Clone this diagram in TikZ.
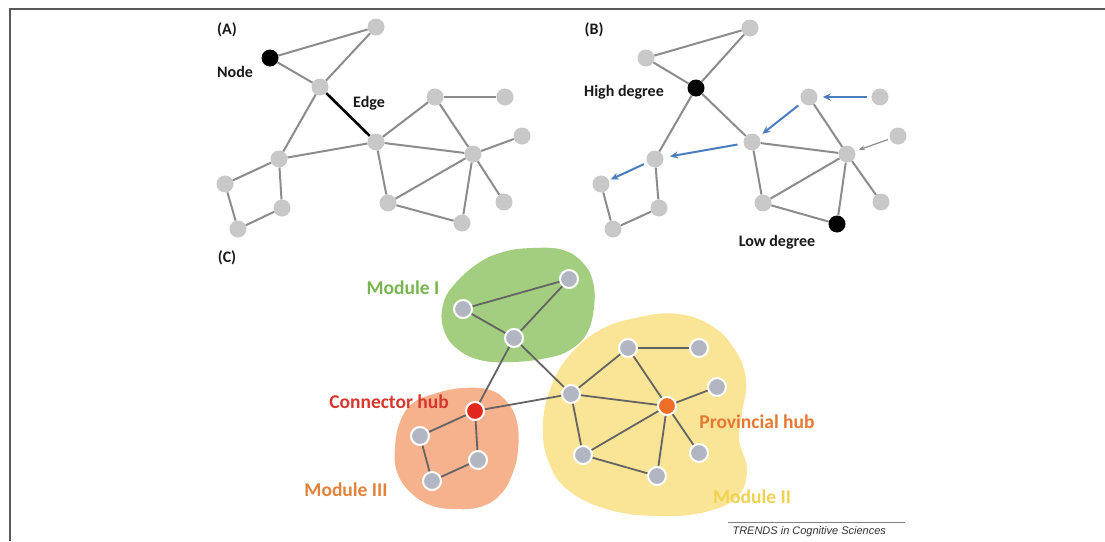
\documentclass[tikz,border=0pt]{standalone}
\usepackage{fontspec}
\newfontfamily\lab{Carlito}
\newfontfamily\arialf{Liberation Sans}
\usetikzlibrary{arrows.meta}
\definecolor{nA}{RGB}{200,200,200}
\definecolor{eA}{RGB}{140,140,140}
\definecolor{nC}{RGB}{178,182,194}
\definecolor{eC}{RGB}{100,100,100}
\definecolor{arrB}{RGB}{74,124,190}
\definecolor{hubR}{RGB}{226,40,30}
\definecolor{hubO}{RGB}{238,110,40}
\definecolor{gFill}{RGB}{163,206,128}
\definecolor{oFill}{RGB}{245,178,140}
\definecolor{yFill}{RGB}{250,228,150}
\definecolor{tGreen}{RGB}{120,180,80}
\definecolor{tRed}{RGB}{215,55,45}
\definecolor{tOrange}{RGB}{225,130,60}
\definecolor{tProv}{RGB}{230,120,50}
\definecolor{tYellow}{RGB}{240,210,80}
\definecolor{frameC}{RGB}{90,90,90}
\begin{document}
\begin{tikzpicture}[x=1pt,y=-1pt,
 gn/.style={circle,fill=nA,minimum size=17pt,inner sep=0pt},
 bn/.style={circle,fill=black,minimum size=17pt,inner sep=0pt},
 ea/.style={draw=eA,line width=2pt},
 cn/.style={circle,fill=nC,draw=white,line width=2pt,minimum size=18pt,inner sep=0pt},
 ec/.style={draw=eC,line width=1.8pt},
 lbl/.style={font=\lab\bfseries\fontsize{16}{18}\selectfont, text=black!90},
 lblC/.style={font=\lab\bfseries\fontsize{19.5}{22}\selectfont},
 barr/.style={draw=arrB,line width=2pt,-{Stealth[length=8pt,width=7pt]}},
 garr/.style={draw=eA,line width=1.2pt,-{Stealth[length=6pt,width=5pt]}},
]
\useasboundingbox (0,0) rectangle (1105,541);
\fill[white] (0,0) rectangle (1105,541);
\draw[frameC,line width=1.5pt] (10,541) -- (10,9) -- (1105,9);

% ---------------- Panel A ----------------
\node[lbl] (labA) at (227,30) {(A)};
\node[gn] (a1) at (376,27) {};
\node[bn] (a2) at (270,58) {};
\node[gn] (a3) at (320,87) {};
\node[gn] (a4) at (435,97) {};
\node[gn] (a5) at (505,97) {};
\node[gn] (a6) at (376,142) {};
\node[gn] (a7) at (522,136) {};
\node[gn] (a8) at (473,154) {};
\node[gn] (a9) at (279,159) {};
\node[gn] (a10) at (225,184) {};
\node[gn] (a11) at (282,208) {};
\node[gn] (a12) at (238,229) {};
\node[gn] (a13) at (388,203) {};
\node[gn] (a14) at (504,202) {};
\node[gn] (a15) at (462,223) {};
\node[lbl] (labNode) at (235,72) {Node};
\node[lbl] (labEdge) at (369,103) {Edge};
\draw[ea] (a2) -- (a1);
\draw[ea] (a2) -- (a3);
\draw[ea] (a1) -- (a3);
\draw[black,line width=2.6pt] (a3) -- (a6);
\draw[ea] (a3) -- (a9);
\draw[ea] (a9) -- (a6);
\draw[ea] (a9) -- (a10);
\draw[ea] (a9) -- (a11);
\draw[ea] (a10) -- (a12);
\draw[ea] (a12) -- (a11);
\draw[ea] (a6) -- (a4);
\draw[ea] (a4) -- (a5);
\draw[ea] (a4) -- (a8);
\draw[ea] (a6) -- (a8);
\draw[ea] (a6) -- (a13);
\draw[ea] (a8) -- (a7);
\draw[ea] (a8) -- (a13);
\draw[ea] (a8) -- (a14);
\draw[ea] (a8) -- (a15);
\draw[ea] (a13) -- (a15);

% ---------------- Panel B ----------------
\node[lbl] (labB) at (594,30) {(B)};
\node[gn] (b1) at (750,28) {};
\node[gn] (b2) at (646,58) {};
\node[bn] (b3) at (696,88) {};
\node[gn] (b4) at (809,97) {};
\node[gn] (b5) at (880,97) {};
\node[gn] (b6) at (752,142) {};
\node[gn] (b7) at (898,136) {};
\node[gn] (b8) at (847,154) {};
\node[gn] (b9) at (655,159) {};
\node[gn] (b10) at (601,184) {};
\node[gn] (b11) at (659,208) {};
\node[gn] (b12) at (613,229) {};
\node[gn] (b13) at (763,203) {};
\node[gn] (b14) at (881,202) {};
\node[bn] (b15) at (837,224) {};
\node[lbl] (labHigh) at (624,92) {High degree};
\node[lbl] (labLow) at (777,242) {Low degree};
\draw[ea] (b2) -- (b1);
\draw[ea] (b2) -- (b3);
\draw[ea] (b1) -- (b3);
\draw[ea] (b3) -- (b6);
\draw[ea] (b3) -- (b9);
\draw[ea] (b9) -- (b11);
\draw[ea] (b10) -- (b12);
\draw[ea] (b12) -- (b11);
\draw[ea] (b4) -- (b8);
\draw[ea] (b6) -- (b8);
\draw[ea] (b6) -- (b13);
\draw[ea] (b8) -- (b13);
\draw[ea] (b8) -- (b14);
\draw[ea] (b8) -- (b15);
\draw[ea] (b13) -- (b15);
\draw[barr,shorten <=4pt,shorten >=5pt] (b5) -- (b4);
\draw[barr,shorten <=5pt,shorten >=4.5pt] (b4) -- (b6);
\draw[barr,shorten <=6pt,shorten >=6.5pt] (b6) -- (b9);
\draw[barr,shorten <=3.5pt,shorten >=2pt] (b9) -- (b10);
\draw[garr,shorten <=2pt,shorten >=4pt] (b7) -- (b8);

% ---------------- Panel C ----------------
\node[lbl] (labC) at (227,258) {(C)};
\fill[gFill] plot[smooth cycle, tension=0.7] coordinates {
 (533,248) (563,250) (583,263) (593,282) (594,307) (587,333) (570,350)
 (547,358) (513,362) (480,360) (455,347) (443,327) (443,305) (453,286)
 (477,264) (503,252)};
\fill[oFill] plot[smooth cycle, tension=0.7] coordinates {
 (437,393) (463,388) (490,390) (507,402) (517,422) (518,450) (512,475)
 (500,495) (480,507) (453,509) (430,505) (410,492) (397,472) (395,448)
 (400,422) (413,403)};
\fill[yFill] plot[smooth cycle, tension=0.7] coordinates {
 (640,317) (678,314) (712,326) (735,350) (746,380) (742,413) (739,440)
 (747,470) (737,497) (705,512) (660,516) (610,510) (568,490) (548,460)
 (543,425) (550,390) (568,357) (600,330)};

\node[cn] (c1) at (569,279) {};
\node[cn] (c2) at (463,309) {};
\node[cn] (c3) at (514,338) {};
\node[cn,fill=hubR] (c4) at (475,411) {};
\node[cn] (c5) at (420,436) {};
\node[cn] (c6) at (478,460) {};
\node[cn] (c7) at (432,481) {};
\node[cn] (c8) at (571,394) {};
\node[cn] (c9) at (628,348) {};
\node[cn] (c10) at (699,348) {};
\node[cn] (c11) at (717,387) {};
\node[cn,fill=hubO] (c12) at (667,406) {};
\node[cn] (c13) at (583,455) {};
\node[cn] (c14) at (657,476) {};
\node[cn] (c15) at (699,453) {};
\draw[ec] (c1) -- (c2);
\draw[ec] (c1) -- (c3);
\draw[ec] (c2) -- (c3);
\draw[ec] (c3) -- (c4);
\draw[ec] (c3) -- (c8);
\draw[ec] (c4) -- (c8);
\draw[ec] (c4) -- (c5);
\draw[ec] (c4) -- (c6);
\draw[ec] (c5) -- (c7);
\draw[ec] (c7) -- (c6);
\draw[ec] (c8) -- (c9);
\draw[ec] (c9) -- (c10);
\draw[ec] (c9) -- (c12);
\draw[ec] (c8) -- (c12);
\draw[ec] (c8) -- (c13);
\draw[ec] (c12) -- (c11);
\draw[ec] (c12) -- (c13);
\draw[ec] (c12) -- (c15);
\draw[ec] (c12) -- (c14);
\draw[ec] (c13) -- (c14);

\node[lblC,text=tGreen] (labM1) at (403,288) {Module I};
\node[lblC,text=tRed] (labConn) at (389,402) {Connector hub};
\node[lblC,text=tOrange] (labM3) at (346,490) {Module III};
\node[lblC,text=tProv] (labProv) at (757,422) {Provincial hub};
\node[lblC,text=tYellow] (labM2) at (752,497) {Module II};

% ---------------- credit ----------------
\draw[gray,line width=0.8pt] (728,522) -- (905,522);
\node[font=\arialf\itshape\fontsize{11}{13}\selectfont,text=black!80,anchor=west] (credit) at (729,532) {TRENDS in Cognitive Sciences};
\end{tikzpicture}
\end{document}
